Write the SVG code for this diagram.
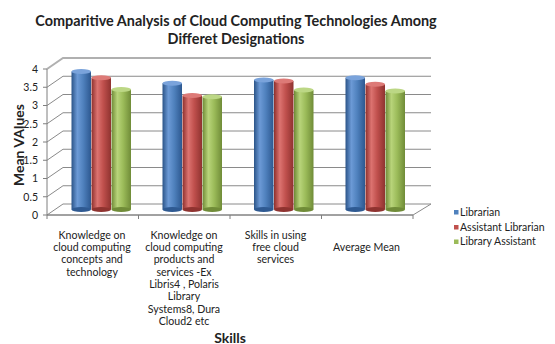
<svg xmlns="http://www.w3.org/2000/svg" width="555" height="344" viewBox="0 0 555 344">
<defs>
<linearGradient id="gb" x1="0" x2="1" y1="0" y2="0">
<stop offset="0" stop-color="#2b5488"/><stop offset="0.3" stop-color="#6c9ad6"/><stop offset="0.6" stop-color="#4f81bd"/><stop offset="1" stop-color="#2d5890"/>
</linearGradient>
<linearGradient id="gr" x1="0" x2="1" y1="0" y2="0">
<stop offset="0" stop-color="#8e2f2c"/><stop offset="0.3" stop-color="#dc7370"/><stop offset="0.6" stop-color="#c0504d"/><stop offset="1" stop-color="#8f3330"/>
</linearGradient>
<linearGradient id="gg" x1="0" x2="1" y1="0" y2="0">
<stop offset="0" stop-color="#6f8a36"/><stop offset="0.3" stop-color="#b8d47a"/><stop offset="0.6" stop-color="#9bbb59"/><stop offset="1" stop-color="#708c38"/>
</linearGradient>
</defs>
<style>
text{font-family:Lato,"Liberation Sans",sans-serif;fill:#222}
.t{font-size:14.4px;font-weight:bold;text-anchor:middle}
.tick{font-size:10.5px;text-anchor:end}
.cat{font-size:10.6px;text-anchor:middle}
.leg{font-size:10.5px}
.ax{font-size:14px;font-weight:bold;text-anchor:middle}
.grid{stroke:#8a8a8a;stroke-width:1;fill:none}
.axis{stroke:#7f7f7f;stroke-width:1;fill:none}
.b .body{fill:url(#gb)}.b .top{fill:#7aa3db}.b .bot{fill:#2f5a92}
.r .body{fill:url(#gr)}.r .top{fill:#dd7a77}.r .bot{fill:#8f3330}
.g .body{fill:url(#gg)}.g .top{fill:#bcd785}.g .bot{fill:#708c38}
</style>
<rect width="555" height="344" fill="#fff"/>
<g id="title">
<text class="t" x="236" y="25.5">Comparitive Analysis of Cloud Computing Technologies Among</text>
<text class="t" x="236" y="44">Differet Designations</text>
</g>
<g id="plot-area">
<path class="grid" d="M47 215L63 204L431 204L413 215Z"/>
<path class="grid" d="M47 196.75L63 185.75H431M47 178.5L63 167.5H431M47 160.25L63 149.25H431M47 142L63 131H431M47 123.75L63 112.75H431M47 105.5L63 94.5H431M47 87.25L63 76.25H431"/>
<path d="M47 69L63 58H431" stroke="#b0b0b0" stroke-width="2" fill="none"/>
<path class="axis" d="M47 69V215H413M43 215H47M43 196.75H47M43 178.5H47M43 160.25H47M43 142H47M43 123.75H47M43 105.5H47M43 87.25H47M43 69H47M47 215V219M138.5 215V219M230 215V219M321.5 215V219M413 215V219"/>
</g>
<g id="y-ticks">
<text class="tick" x="38" y="219">0</text>
<text class="tick" x="38" y="200.5">0.5</text>
<text class="tick" x="38" y="182.2">1</text>
<text class="tick" x="38" y="164">1.5</text>
<text class="tick" x="38" y="145.7">2</text>
<text class="tick" x="38" y="127.5">2.5</text>
<text class="tick" x="38" y="109.2">3</text>
<text class="tick" x="38" y="91">3.5</text>
<text class="tick" x="38" y="72.7">4</text>
</g>
<g id="y-title"><text class="ax" transform="translate(24,145) rotate(-90)">Mean VAlues</text></g>
<g id="bars">
<g id="g1">
<g class="b"><rect class="body" x="71.5" y="71.5" width="19.5" height="138"/><ellipse class="bot" cx="81.25" cy="209.5" rx="9.75" ry="2.5"/><ellipse class="top" cx="81.25" cy="71.5" rx="9.75" ry="2.5"/></g>
<g class="r"><rect class="body" x="91.5" y="77.7" width="19.5" height="131.8"/><ellipse class="bot" cx="101.25" cy="209.5" rx="9.75" ry="2.5"/><ellipse class="top" cx="101.25" cy="77.7" rx="9.75" ry="2.5"/></g>
<g class="g"><rect class="body" x="111.5" y="89.4" width="19.5" height="120.1"/><ellipse class="bot" cx="121.25" cy="209.5" rx="9.75" ry="2.5"/><ellipse class="top" cx="121.25" cy="89.4" rx="9.75" ry="2.5"/></g>
</g>
<g id="g2">
<g class="b"><rect class="body" x="162.5" y="83.2" width="19.5" height="126.3"/><ellipse class="bot" cx="172.25" cy="209.5" rx="9.75" ry="2.5"/><ellipse class="top" cx="172.25" cy="83.2" rx="9.75" ry="2.5"/></g>
<g class="r"><rect class="body" x="182.5" y="95.6" width="19.5" height="113.9"/><ellipse class="bot" cx="192.25" cy="209.5" rx="9.75" ry="2.5"/><ellipse class="top" cx="192.25" cy="95.6" rx="9.75" ry="2.5"/></g>
<g class="g"><rect class="body" x="202.5" y="96.7" width="19.5" height="112.8"/><ellipse class="bot" cx="212.25" cy="209.5" rx="9.75" ry="2.5"/><ellipse class="top" cx="212.25" cy="96.7" rx="9.75" ry="2.5"/></g>
</g>
<g id="g3">
<g class="b"><rect class="body" x="254" y="79.9" width="19.5" height="129.6"/><ellipse class="bot" cx="263.75" cy="209.5" rx="9.75" ry="2.5"/><ellipse class="top" cx="263.75" cy="79.9" rx="9.75" ry="2.5"/></g>
<g class="r"><rect class="body" x="274" y="81" width="19.5" height="128.5"/><ellipse class="bot" cx="283.75" cy="209.5" rx="9.75" ry="2.5"/><ellipse class="top" cx="283.75" cy="81" rx="9.75" ry="2.5"/></g>
<g class="g"><rect class="body" x="294" y="90.1" width="19.5" height="119.4"/><ellipse class="bot" cx="303.75" cy="209.5" rx="9.75" ry="2.5"/><ellipse class="top" cx="303.75" cy="90.1" rx="9.75" ry="2.5"/></g>
</g>
<g id="g4">
<g class="b"><rect class="body" x="345.5" y="77.7" width="19.5" height="131.8"/><ellipse class="bot" cx="355.25" cy="209.5" rx="9.75" ry="2.5"/><ellipse class="top" cx="355.25" cy="77.7" rx="9.75" ry="2.5"/></g>
<g class="r"><rect class="body" x="365.5" y="84.3" width="19.5" height="125.2"/><ellipse class="bot" cx="375.25" cy="209.5" rx="9.75" ry="2.5"/><ellipse class="top" cx="375.25" cy="84.3" rx="9.75" ry="2.5"/></g>
<g class="g"><rect class="body" x="385.5" y="90.9" width="19.5" height="118.6"/><ellipse class="bot" cx="395.25" cy="209.5" rx="9.75" ry="2.5"/><ellipse class="top" cx="395.25" cy="90.9" rx="9.75" ry="2.5"/></g>
</g>
</g>
<g id="x-labels">
<text class="cat" y="238.8"><tspan x="92">Knowledge on</tspan><tspan x="92" dy="12.3">cloud computing</tspan><tspan x="92" dy="12.3">concepts and</tspan><tspan x="92" dy="12.3">technology</tspan></text>
<text class="cat" y="238.8"><tspan x="184">Knowledge on</tspan><tspan x="184" dy="12.3">cloud computing</tspan><tspan x="184" dy="12.3">products and</tspan><tspan x="184" dy="12.3">services -Ex</tspan><tspan x="184" dy="12.3">Libris4 , Polaris</tspan><tspan x="184" dy="12.3">Library</tspan><tspan x="184" dy="12.3">Systems8, Dura</tspan><tspan x="184" dy="12.3">Cloud2 etc</tspan></text>
<text class="cat" y="238.8"><tspan x="275.5">Skills in using</tspan><tspan x="275.5" dy="12.3">free cloud</tspan><tspan x="275.5" dy="12.3">services</tspan></text>
<text class="cat" x="366.5" y="251.1">Average Mean</text>
</g>
<g id="x-title"><text class="ax" x="230" y="342.5">Skills</text></g>
<g id="legend">
<rect x="454" y="210" width="4.5" height="4.5" fill="#4f81bd"/>
<text class="leg" x="460" y="216">Librarian</text>
<rect x="454" y="225" width="4.5" height="4.5" fill="#c0504d"/>
<text class="leg" x="460" y="231">Assistant Librarian</text>
<rect x="454" y="239.5" width="4.5" height="4.5" fill="#9bbb59"/>
<text class="leg" x="460" y="245.4">Library Assistant</text>
</g>
</svg>
